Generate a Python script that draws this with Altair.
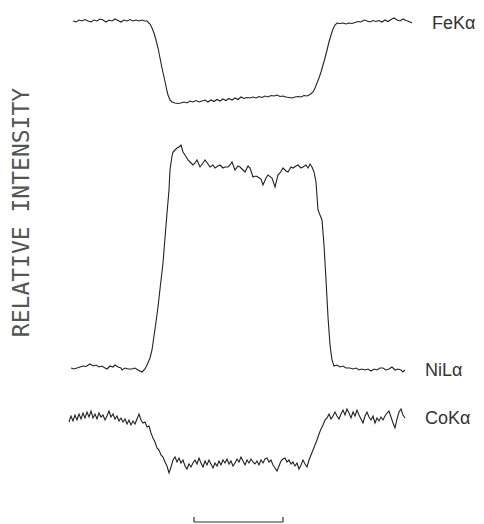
import altair as alt
import pandas as pd

# scan position (arbitrary units) and relative intensity (arbitrary units)
fe_x = [5, 8, 11, 14, 17, 20, 23, 26, 29, 32, 35, 38, 41, 44, 47, 50, 53, 56, 59, 62, 65, 68, 71, 74, 77, 79,
        82, 84, 86, 88, 90, 92, 94, 96, 98, 99, 100, 102, 104, 107, 110, 113, 116, 119, 122, 125, 128, 131, 134,
        137, 140, 143, 146, 149, 152, 155, 158, 161, 164, 167, 170, 173, 176, 179, 182, 185, 188, 191, 194, 197,
        200, 203, 206, 209, 212, 215, 218, 221, 224, 227, 230, 233, 236, 239, 242, 245, 247, 249, 251, 253, 255,
        257, 259, 261, 263, 265, 267, 269, 272, 275, 278, 281, 284, 287, 290, 293, 296, 299, 302, 305, 308, 311,
        314, 317, 320, 323, 326, 329, 332, 335, 338, 341, 344]
fe_y = [459, 458, 460, 459, 460.5, 459, 458, 460, 459, 461, 460, 458, 460, 459, 461, 459.5, 458, 460, 459, 460.5,
        459, 460, 459, 460, 459, 459,
        456, 452, 447, 440, 432, 422, 412, 403, 394, 389, 385, 380, 378, 377, 376.5, 377, 378, 377, 379, 378, 379.5,
        378, 379, 380, 378, 380, 378.5, 380.5, 379, 381, 379.5, 381.5, 380, 382, 380.5, 383, 381.5, 382.5, 382, 383,
        382, 383.5, 382.5, 384, 383, 384.5, 384, 385, 383.5, 384, 383, 382.5, 382, 383, 383.5, 383, 384.5, 384,
        385.5, 388, 392, 397, 402, 408, 415, 422, 430, 438, 445, 451, 455, 457, 456.5, 457, 456, 457, 456.5, 457.5,
        458.5, 458, 460, 459, 458, 459.5, 458.5, 459.5, 458, 460, 458.5, 460.5, 462, 460, 459, 461, 459.5, 458.5, 457]

ni_x = [3, 6, 9, 12, 15, 18, 22, 25, 28, 31, 34, 37, 39, 42, 45, 47, 50, 53, 54, 57, 60, 64, 67, 70, 74, 77, 79,
        82, 84, 86, 88, 90, 92, 95, 97, 99, 101, 102, 104, 105, 107, 109, 111, 113, 115, 117, 120, 122, 125, 127,
        129, 132, 135, 137, 140, 142, 145, 147, 150, 152, 155, 157, 160, 162, 164, 167, 170, 172, 175, 177, 180,
        182, 185, 188, 190, 193, 195, 198, 200, 204, 207, 210, 212, 215, 218, 220, 223, 225, 228, 230, 233, 235,
        238, 240, 242, 244, 246, 248, 250, 252, 254, 256, 258, 260, 262, 264, 266, 269, 272, 275, 278, 282, 285,
        288, 291, 294, 297, 300, 303, 306, 309, 312, 315, 318, 321, 324, 327, 330, 333, 335, 337]
ni_y = [112, 111, 112, 113, 114, 113.5, 116, 114, 115, 113, 114, 112, 111, 114, 113, 115, 113, 112, 110, 112, 111,
        111, 112, 110, 108, 111, 115,
        122, 130, 144, 158, 173, 191, 217, 242, 267, 290, 310, 324, 328, 330, 332, 333, 335, 328, 325, 320, 318,
        315, 317, 320, 313, 317, 320, 316, 313, 315, 312, 314, 315, 312, 313, 313, 315, 318, 310, 314, 313, 310,
        308, 314, 312, 303, 304, 303, 301, 295, 302, 305, 302, 293, 305, 307, 312, 309, 308, 313, 312, 314, 315,
        312, 313, 315, 312, 316, 313, 308, 298, 270, 265, 260, 235, 200, 163, 135, 120, 114, 115, 113, 114, 112,
        112, 111, 112, 110, 111, 110, 111, 109, 111, 110, 112, 112, 110, 111, 113, 110, 111, 110, 108, 110]

co_x = [1, 3, 5, 7, 9, 11, 13, 15, 17, 19, 21, 23, 25, 27, 29, 31, 33, 35, 37, 39, 41, 43, 45, 47, 49, 51, 53, 55,
        57, 59, 61, 63, 65, 67, 69, 71, 73, 75, 77, 79, 81, 83, 85, 87, 89, 91, 93, 95, 97, 99, 101, 103, 105, 107,
        109, 111, 113, 115, 117, 119, 121, 123, 125, 127, 129, 131, 133, 135, 137, 139, 141, 143, 145, 147, 149,
        151, 153, 155, 157, 159, 161, 163, 165, 167, 169, 171, 173, 175, 177, 179, 181, 183, 185, 187, 189, 191,
        193, 195, 197, 199, 201, 203, 205, 207, 209, 211, 213, 215, 217, 219, 221, 223, 225, 227, 229, 231, 233,
        235, 237, 239, 241, 243, 245, 247, 249, 251, 253, 255, 257, 259, 261, 263, 265, 267, 269, 271, 273, 275,
        277, 279, 281, 283, 285, 287, 289, 291, 293, 295, 297, 299, 301, 303, 305, 307, 309, 311, 313, 315, 317,
        319, 321, 323, 325, 327, 329, 331, 333, 335, 337]
co_y = [58, 64, 59, 65, 60, 66, 61, 67, 62, 68, 63, 69, 62, 66, 61, 67, 63, 65, 60, 64, 69, 63, 66, 61, 64, 59, 62,
        58, 61, 56, 60, 55, 59, 56, 61, 66, 60, 57, 58, 53, 54, 47, 42, 38, 32, 30, 25, 23, 18, 14, 7, 13, 20, 23,
        18, 22, 17, 20, 14, 11, 16, 13, 17, 20, 16, 22, 17, 13, 19, 15, 20, 16, 12, 17, 14, 19, 15, 20, 17, 21, 16,
        19, 14, 17, 21, 18, 23, 19, 15, 20, 17, 21, 18, 16, 19, 15, 20, 17, 21, 22, 18, 20, 15, 12, 9, 14, 19, 21,
        22, 18, 20, 16, 18, 14, 17, 11, 15, 20, 16, 13, 20, 25, 30, 35, 40, 46, 51, 55, 60, 62, 66, 61, 64, 68, 64,
        61, 66, 70, 65, 71, 67, 62, 68, 64, 70, 65, 61, 57, 64, 68, 63, 60, 64, 57, 62, 59, 63, 60, 64, 67, 69, 63,
        57, 52, 61, 68, 71, 65, 62]

series_names = ["FeKα", "NiLα", "CoKα"]
line_widths = [1.1, 1.1, 1.6]

# scale bar (scan-position units)
bar_start = 126
bar_end = 215
bar_level = -42
bar_tick = 5

rows = []
for name, xs, ys in zip(series_names, [fe_x, ni_x, co_x], [fe_y, ni_y, co_y]):
    for x, y in zip(xs, ys):
        rows.append({"series": name, "pos": x, "intensity": y})
df = pd.DataFrame(rows)

label_rows = []
for name, xs, ys in zip(series_names, [fe_x, ni_x, co_x], [fe_y, ni_y, co_y]):
    label_rows.append({"series": name, "pos": xs[-1], "intensity": ys[-1]})
labels_df = pd.DataFrame(label_rows)

xscale = alt.Scale(domain=[-60, 408], nice=False, zero=False)
yscale = alt.Scale(domain=[-44, 472], nice=False, zero=False)

yaxis = alt.Axis(title="RELATIVE INTENSITY", domain=False, ticks=False, labels=False, grid=False,
                 titleFont="DejaVu Sans Mono", titleFontSize=23, titleFontWeight="normal",
                 titleColor="#555555", titleAngle=270, titleX=13, titleY=204,
                 titleBaseline="middle", titleAlign="center")

lines = alt.Chart(df).mark_line(interpolate="linear").encode(
    x=alt.X("pos:Q", scale=xscale, axis=None),
    y=alt.Y("intensity:Q", scale=yscale, axis=yaxis),
    detail="series:N",
    color=alt.Color("series:N", scale=alt.Scale(domain=series_names, range=["#222222"] * 3), legend=None),
    strokeWidth=alt.StrokeWidth("series:N", scale=alt.Scale(domain=series_names, range=line_widths), legend=None),
)

labels = alt.Chart(labels_df).mark_text(
    align="left", baseline="middle", dx=20, dy=1, font="Liberation Sans", fontSize=18, color="#333333"
).encode(
    x=alt.X("pos:Q", scale=xscale),
    y=alt.Y("intensity:Q", scale=yscale),
    text="series:N",
)

bar_df = pd.DataFrame([{"x1": bar_start, "x2": bar_end, "y1": bar_level, "y2": bar_level}])
ticks_df = pd.DataFrame([
    {"x1": bar_start, "x2": bar_start, "y1": bar_level, "y2": bar_level + bar_tick},
    {"x1": bar_end, "x2": bar_end, "y1": bar_level, "y2": bar_level + bar_tick},
])
bar = alt.Chart(pd.concat([bar_df, ticks_df])).mark_rule(color="#333333", strokeWidth=1.2).encode(
    x=alt.X("x1:Q", scale=xscale),
    x2="x2:Q",
    y=alt.Y("y1:Q", scale=yscale),
    y2="y2:Q",
)

chart = alt.layer(lines, labels, bar).properties(
    width=468, height=516, autosize=alt.AutoSizeParams(type="none"), padding=0
).configure_view(strokeWidth=0)

chart.save("out.html", embed_options={"renderer": "svg", "actions": False})
